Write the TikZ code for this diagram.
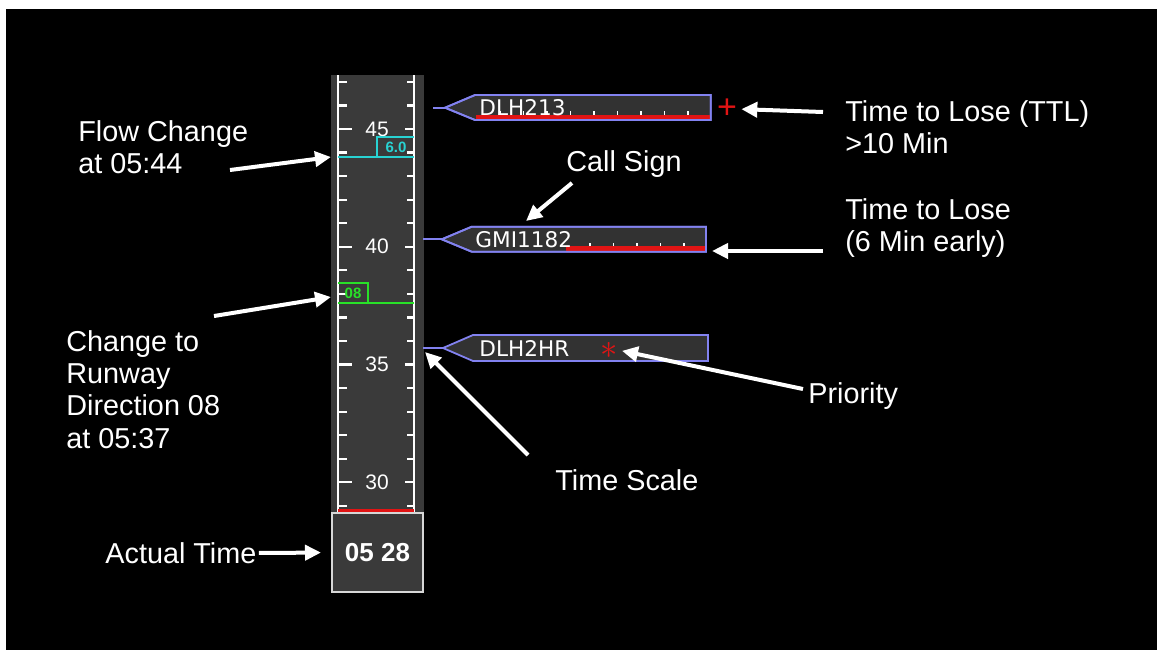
\documentclass[tikz,border=0pt]{standalone}
\usepackage{fontspec}
\setmainfont{Liberation Sans}
\newfontfamily\labelfont{DejaVu Sans}
\usetikzlibrary{arrows.meta,positioning}

\definecolor{stripgray}{RGB}{58,58,58}
\definecolor{labelgray}{RGB}{50,50,50}
\definecolor{labelblue}{RGB}{130,130,240}
\definecolor{ttlred}{RGB}{225,20,20}
\definecolor{flowcyan}{RGB}{40,210,210}
\definecolor{rwygreen}{RGB}{40,225,40}
\definecolor{boxline}{RGB}{215,215,215}

\tikzset{
  callout/.style={draw=white, line width=2pt, -{Triangle[length=8pt,width=7.5pt]}},
  caption/.style={text=white, font=\fontsize{14.4}{16.1}\selectfont, align=left, inner sep=0pt},
  scalenum/.style={text=white, font=\fontsize{10.5}{11}\selectfont, inner sep=0pt},
  scaleline/.style={draw=white, line width=1.1pt},
  flightlabel/.style={draw=labelblue, line width=0.9pt},
  callsign/.style={text=white, font=\labelfont\fontsize{10.8}{12}\selectfont, inner sep=0pt, anchor=west},
}

\begin{document}
\begin{tikzpicture}[x=0.5pt, y=-0.5pt]
  \useasboundingbox (0,0) rectangle (1157,650);
  \fill[black] (6,9) rectangle (1157,650);

  % time scale strip
  \fill[stripgray] (331,75) rectangle (424,513);
  \draw[scaleline] (338,75) -- (338,513);
  \draw[scaleline] (414,75) -- (414,513);
  \foreach \m in {29,...,47} {
    \pgfmathsetmacro\ty{129+(45-\m)*23.55}
    \draw[scaleline] (338,\ty) -- (347,\ty);
    \draw[scaleline] (407,\ty) -- (414,\ty);
  }
  \foreach \m in {30,35,40,45} {
    \pgfmathsetmacro\ty{129+(45-\m)*23.55}
    \draw[scaleline] (338,\ty) -- (352,\ty);
    \draw[scaleline] (405,\ty) -- (414,\ty);
    \node[scalenum] (min\m) at (377,\ty) {\m};
  }
  \draw[ttlred, line width=1.6pt] (338,511) -- (414,511);

  % actual time
  \node[draw=boxline, fill=stripgray, line width=1pt, minimum width=45.5pt,
        minimum height=39.5pt, text=white, font=\fontsize{13}{14}\selectfont\bfseries]
        (clock) at (377.5,552.5) {05 28};

  % flow change marker
  \draw[flowcyan, line width=0.8pt] (338,156.7) -- (414,156.7);
  \draw[flowcyan, line width=0.8pt] (377,156.7) -- (377,137) -- (414,137);
  \node[text=flowcyan, font=\fontsize{7.5}{8}\selectfont\bfseries, inner sep=0pt]
        (flowval) at (396,147.5) {6.0};

  % runway direction marker
  \draw[rwygreen, line width=0.8pt] (338,303) -- (414,303);
  \draw[rwygreen, line width=0.8pt] (338,283) -- (368,283) -- (368,303);
  \node[text=rwygreen, font=\fontsize{7.5}{8}\selectfont\bfseries, inner sep=0pt]
        (rwyval) at (353,293.5) {08};

  % flight labels
  \filldraw[flightlabel, fill=labelgray] (445,107.7) -- (475,95) -- (710.7,95)
        -- (710.7,120) -- (475,120) -- cycle;
  \draw[flightlabel] (433,107.7) -- (445,107.7);
  \fill[ttlred] (476,114.5) rectangle (710,119.5);
  \foreach \x in {500,523.5,...,690}
    \draw[white, line width=0.7pt] (\x,114.5) -- (\x,111);
  \draw[flightlabel] (445,107.7) -- (475,95) -- (710.7,95) -- (710.7,120) -- (475,120) -- cycle;
  \node[callsign] (dlh213) at (479,107.7) {DLH213};
  \node[text=ttlred, font=\fontsize{17}{17}\selectfont, inner sep=0pt] (plus) at (727,109) {+};

  \filldraw[flightlabel, fill=labelgray] (441.7,239.3) -- (471.7,226.7) -- (706,226.7)
        -- (706,251.7) -- (471.7,251.7) -- cycle;
  \draw[flightlabel] (423,239.3) -- (441.7,239.3);
  \fill[ttlred] (566,246) rectangle (705.5,251);
  \foreach \x in {590,613.5,...,690}
    \draw[white, line width=0.7pt] (\x,246) -- (\x,242.5);
  \draw[flightlabel] (441.7,239.3) -- (471.7,226.7) -- (706,226.7) -- (706,251.7) -- (471.7,251.7) -- cycle;
  \node[callsign] (gmi1182) at (475,239.3) {GMI1182};

  \filldraw[flightlabel, fill=labelgray] (443,348) -- (473,335) -- (708,335)
        -- (708,361) -- (473,361) -- cycle;
  \draw[flightlabel] (423,348) -- (443,348);
  \node[callsign] (dlh2hr) at (479,348) {DLH2HR};
  \node[text=ttlred, font=\fontsize{17}{17}\selectfont, inner sep=0pt] (prio) at (609,350) {$\ast$};

  % captions
  \node[caption, anchor=west] (flowtxt) at (78,147) {Flow Change\\at 05:44};
  \node[caption, anchor=west] (rwytxt) at (66,389.5) {Change to\\Runway\\Direction 08\\at 05:37};
  \node[caption, anchor=west] (actualtxt) at (105,553) {Actual Time};
  \node[caption] (calltxt) at (624,164) {Call Sign};
  \node[caption, anchor=west] (ttltxt) at (845,127) {Time to Lose (TTL)\\>10 Min};
  \node[caption, anchor=west] (earlytxt) at (845,228) {Time to Lose\\(6 Min early)};
  \node[caption, anchor=west] (priotxt) at (808,396) {Priority};
  \node[caption, anchor=west] (scaletxt) at (555,480) {Time Scale};

  % arrow ends
  \coordinate (flowtail) at (230,170);
  \coordinate (flowmark) at (331,157);
  \coordinate (rwytail) at (214,316);
  \coordinate (rwymark) at (331,297);
  \coordinate (calltail) at (572,183);
  \coordinate (callmark) at (526,221);
  \coordinate (ttltail) at (823,112);
  \coordinate (earlytail) at (823,251);
  \coordinate (earlymark) at (712,251);
  \coordinate (priotail) at (803,389);
  \coordinate (scaletail) at (528,455);
  \coordinate (scalemark) at (425,352);

  \draw[callout] (flowtail) -- (flowmark);
  \draw[callout] (rwytail) -- (rwymark);
  \draw[callout, shorten <=1pt, shorten >=5pt] (actualtxt.east) -- (clock.west);
  \draw[callout] (calltail) -- (callmark);
  \draw[callout, shorten >=2pt] (ttltail) -- (plus.east);
  \draw[callout] (earlytail) -- (earlymark);
  \draw[callout, shorten >=2pt] (priotail) -- (prio.east);
  \draw[callout] (scaletail) -- (scalemark);
\end{tikzpicture}
\end{document}
